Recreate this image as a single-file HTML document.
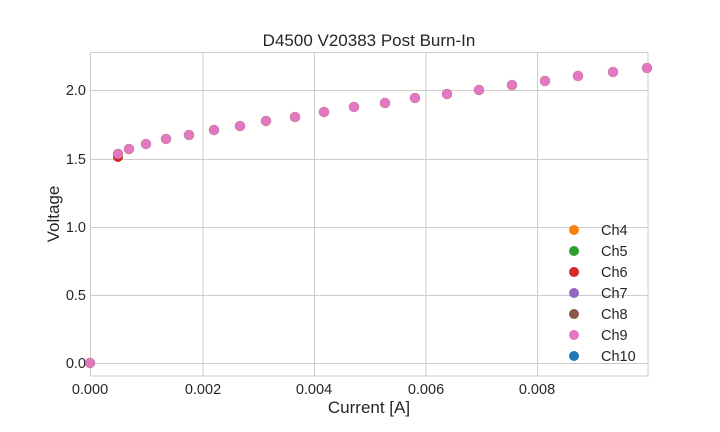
<!DOCTYPE html>
<html><head><style>body{margin:0;background:#fff}svg{display:block}text{font-family:"Liberation Sans",sans-serif;fill:#262626}</style></head>
<body>
<svg width="720" height="432" viewBox="0 0 720 432">
<rect width="720" height="432" fill="#fff"/>
<g stroke="#cccccc" stroke-width="1">
<line x1="90.5" y1="52" x2="90.5" y2="376"/>
<line x1="203" y1="52" x2="203" y2="376"/>
<line x1="314.5" y1="52" x2="314.5" y2="376"/>
<line x1="426" y1="52" x2="426" y2="376"/>
<line x1="537.5" y1="52" x2="537.5" y2="376"/>
<line x1="90" y1="363.5" x2="648" y2="363.5"/>
<line x1="90" y1="295.5" x2="648" y2="295.5"/>
<line x1="90" y1="227.5" x2="648" y2="227.5"/>
<line x1="90" y1="159.5" x2="648" y2="159.5"/>
<line x1="90" y1="90.5" x2="648" y2="90.5"/>
<rect x="90.5" y="52.5" width="557.5" height="323.5" fill="none"/>
</g>
<text x="369" y="46" font-size="17" text-anchor="middle">D4500 V20383 Post Burn-In</text>
<g font-size="14.5" text-anchor="middle">
<text x="90" y="394">0.000</text><text x="203" y="394">0.002</text><text x="314" y="394">0.004</text><text x="426" y="394">0.006</text><text x="537" y="394">0.008</text>
</g>
<g font-size="14.5" text-anchor="end">
<text x="86" y="368">0.0</text><text x="86" y="300">0.5</text><text x="86" y="232">1.0</text><text x="86" y="164">1.5</text><text x="86" y="95">2.0</text>
</g>
<text x="369" y="413" font-size="17" text-anchor="middle">Current [A]</text>
<text transform="translate(59,214) rotate(-90)" font-size="17" text-anchor="middle">Voltage</text>
<g fill="#d62728"><circle cx="118" cy="157" r="5"/></g>
<g fill="#e377c2" stroke="#8c564b" stroke-width="0.6" stroke-opacity="0.5">
<circle cx="90" cy="363" r="5"/>
<circle cx="118" cy="154" r="5"/><circle cx="129" cy="149" r="5"/><circle cx="146" cy="144" r="5"/><circle cx="166" cy="139" r="5"/><circle cx="189" cy="135" r="5"/><circle cx="214" cy="130" r="5"/><circle cx="240" cy="126" r="5"/><circle cx="266" cy="121" r="5"/><circle cx="295" cy="117" r="5"/><circle cx="324" cy="112" r="5"/><circle cx="354" cy="107" r="5"/><circle cx="385" cy="103" r="5"/><circle cx="415" cy="98" r="5"/><circle cx="447" cy="94" r="5"/><circle cx="479" cy="90" r="5"/><circle cx="512" cy="85" r="5"/><circle cx="545" cy="81" r="5"/><circle cx="578" cy="76" r="5"/><circle cx="613" cy="72" r="5"/><circle cx="647" cy="68" r="5"/>
</g>
<g font-size="14.5">
<circle cx="574" cy="230" r="5" fill="#ff7f0e"/><text x="601" y="235">Ch4</text>
<circle cx="574" cy="251" r="5" fill="#2ca02c"/><text x="601" y="256">Ch5</text>
<circle cx="574" cy="272" r="5" fill="#d62728"/><text x="601" y="277">Ch6</text>
<circle cx="574" cy="293" r="5" fill="#9467bd"/><text x="601" y="298">Ch7</text>
<circle cx="574" cy="314" r="5" fill="#8c564b"/><text x="601" y="319">Ch8</text>
<circle cx="574" cy="335" r="5" fill="#e377c2"/><text x="601" y="340">Ch9</text>
<circle cx="574" cy="356" r="5" fill="#1f77b4"/><text x="601" y="361">Ch10</text>
</g>
</svg>
</body></html>
